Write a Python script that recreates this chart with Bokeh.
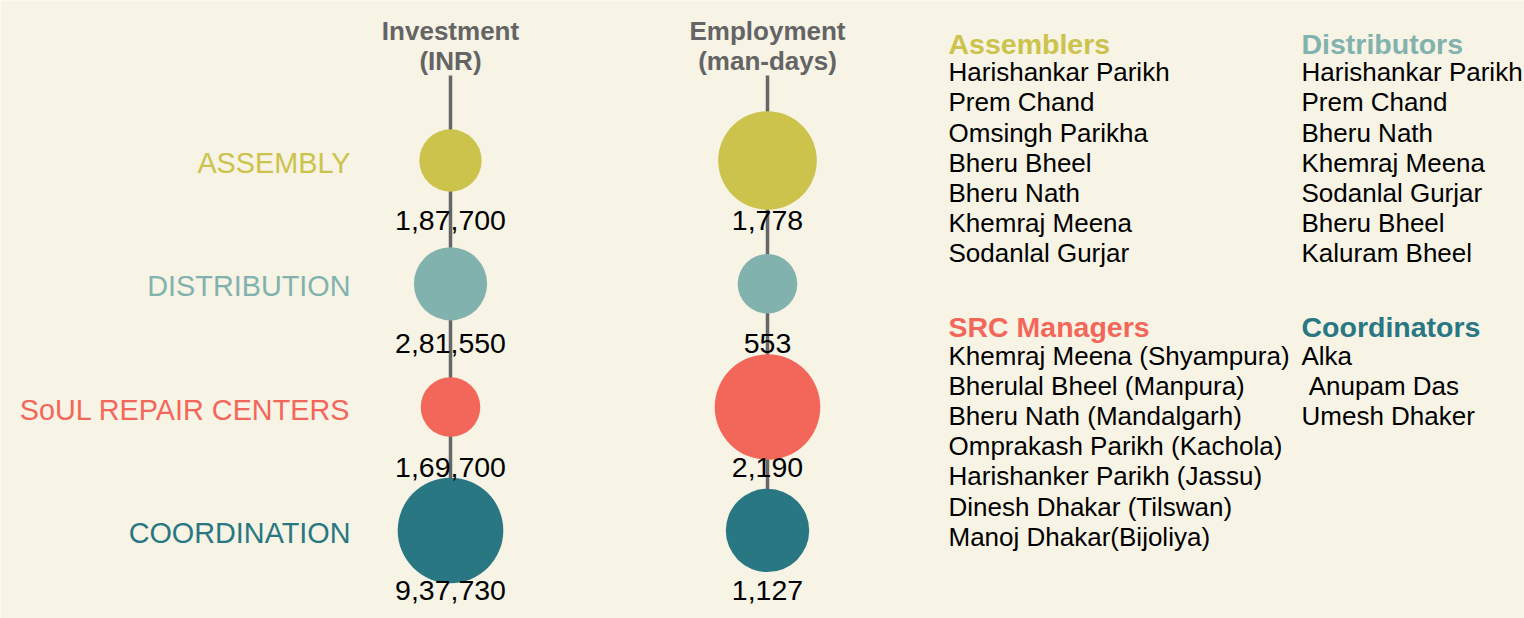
import numpy as np
from bokeh.plotting import figure
from bokeh.models import Range1d, ColumnDataSource
from bokeh.core.properties import value
from bokeh.embed import file_html
from bokeh.resources import INLINE

# ---------------- data ----------------
categories = ["ASSEMBLY", "DISTRIBUTION", "SoUL REPAIR CENTERS", "COORDINATION"]
investment_inr = [187700, 281550, 169700, 937730]
employment_days = [1778, 553, 2190, 1127]
measures = ["Investment\n(INR)", "Employment\n(man-days)"]
cat_colors = ["#cbc34b", "#82b2ae", "#f3675a", "#287782"]

group_titles = ["Assemblers", "Distributors", "SRC Managers", "Coordinators"]
assemblers = ["Harishankar Parikh", "Prem Chand", "Omsingh Parikha", "Bheru Bheel",
              "Bheru Nath", "Khemraj Meena", "Sodanlal Gurjar"]
distributors = ["Harishankar Parikh", "Prem Chand", "Bheru Nath", "Khemraj Meena",
                "Sodanlal Gurjar", "Bheru Bheel", "Kaluram Bheel"]
src_managers = ["Khemraj Meena (Shyampura)", "Bherulal Bheel (Manpura)",
                "Bheru Nath (Mandalgarh)", "Omprakash Parikh (Kachola)",
                "Harishanker Parikh (Jassu)", "Dinesh Dhakar (Tilswan)",
                "Manoj Dhakar(Bijoliya)"]
coordinators = ["Alka", "\u00a0Anupam Das", "Umesh Dhaker"]
group_members = [assemblers, distributors, src_managers, coordinators]

# ---------------- layout / style ----------------
W, H = 1524, 618
BG = "#f7f3e5"
FONT = "Liberation Sans"
col_x = [450, 767]
row_y0, row_step = 160, 123.3
r_min, r_max = 29.8, 52.8
label_right_x = 350
TY = -10  # text baseline correction
group_origin = [(948, 53.3), (1301, 53.3), (948, 336.7), (1301, 336.7)]


def indian(n):
    s = str(int(n))
    if len(s) <= 3:
        return s
    head, tail = s[:-3], s[-3:]
    parts = []
    while len(head) > 2:
        parts.insert(0, head[-2:])
        head = head[:-2]
    if head:
        parts.insert(0, head)
    return ",".join(parts + [tail])


def log_radius(vals):
    lv = np.log(np.asarray(vals, dtype=float))
    t = (lv - lv.min()) / (lv.max() - lv.min())
    return r_min + (r_max - r_min) * t


p = figure(width=W, height=H, x_range=Range1d(0, W), y_range=Range1d(H, 0),
           output_backend="svg", toolbar_location=None, min_border=0,
           background_fill_color=BG, border_fill_color=BG)
p.outline_line_color = None
p.xaxis.visible = False
p.yaxis.visible = False
p.xgrid.visible = False
p.ygrid.visible = False

row_y = [row_y0 + row_step * i for i in range(len(categories))]

# vertical stems
for cx in col_x:
    p.segment(x0=[cx], y0=[75], x1=[cx], y1=[row_y[-1]], line_color="#666666", line_width=3.5)

# bubbles and value labels
for cx, vals in zip(col_x, [investment_inr, employment_days]):
    rad = log_radius(vals)
    src = ColumnDataSource(dict(x=[cx] * len(vals), y=row_y, size=list(2 * rad),
                                color=cat_colors,
                                lab=[indian(v) for v in vals],
                                ly=[y + 70 + TY for y in row_y]))
    p.scatter(x="x", y="y", size="size", fill_color="color", line_color=None, source=src)
    p.text(x="x", y="ly", text="lab", source=src, text_align="center",
           text_baseline="alphabetic", text_font=value(FONT),
           text_font_size="28.5px", text_color="#000000")

# column headers
for cx, m in zip(col_x, measures):
    lines = m.split("\n")
    p.text(x=[cx] * len(lines), y=[40.7 + TY + 29.3 * i for i in range(len(lines))], text=lines,
           text_align="center", text_baseline="alphabetic", text_font=value(FONT),
           text_font_size="26px", text_font_style="bold", text_color="#646464")

# category labels
p.text(x=[label_right_x] * len(categories), y=[y + 12.5 + TY for y in row_y], text=categories,
       text_color=cat_colors, text_align="right", text_baseline="alphabetic",
       text_font=value(FONT), text_font_size="28.8px")

# right side groups
for (gx, gy), title, members, col in zip(group_origin, group_titles, group_members, cat_colors):
    p.text(x=[gx], y=[gy + TY], text=[title], text_color=col, text_align="left",
           text_baseline="alphabetic", text_font=value(FONT), text_font_size="28.5px",
           text_font_style="bold")
    p.text(x=[gx] * len(members), y=[gy + TY + 28.4 + 30.2 * i for i in range(len(members))],
           text=members, text_color="#000000", text_align="left",
           text_baseline="alphabetic", text_font=value(FONT), text_font_size="26px")

open("out.html", "w").write(file_html(p, INLINE))
